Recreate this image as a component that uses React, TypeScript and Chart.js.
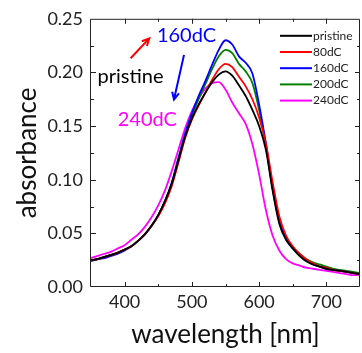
import React, { useEffect, useRef } from 'react';
import { Chart, registerables } from 'chart.js';

Chart.register(...registerables);

// ---------- data ----------
const wavelengths = [350, 360, 370, 380, 390, 400, 410, 420, 430, 440, 450, 460, 470, 480, 490, 500, 510, 520, 530, 540, 550, 560, 570, 580, 590, 600, 610, 620, 630, 640, 650, 660, 670, 680, 690, 700, 710, 720, 730, 740, 750];

const pristine = [0.025, 0.026, 0.028, 0.030, 0.032, 0.035, 0.038, 0.043, 0.049, 0.057, 0.067, 0.080, 0.096, 0.118, 0.140, 0.157, 0.170, 0.181, 0.191, 0.198, 0.201, 0.197, 0.188, 0.178, 0.165, 0.150, 0.128, 0.090, 0.059, 0.044, 0.036, 0.029, 0.024, 0.021, 0.019, 0.017, 0.016, 0.015, 0.014, 0.013, 0.012];
const dC80 = [0.025, 0.026, 0.028, 0.030, 0.032, 0.035, 0.038, 0.043, 0.049, 0.057, 0.066, 0.078, 0.094, 0.116, 0.139, 0.156, 0.169, 0.181, 0.193, 0.203, 0.208, 0.205, 0.196, 0.187, 0.175, 0.158, 0.134, 0.098, 0.066, 0.048, 0.038, 0.031, 0.026, 0.022, 0.019, 0.018, 0.016, 0.015, 0.014, 0.013, 0.012];
const dC160 = [0.024, 0.026, 0.027, 0.029, 0.031, 0.034, 0.038, 0.043, 0.049, 0.057, 0.067, 0.080, 0.097, 0.120, 0.143, 0.162, 0.178, 0.192, 0.207, 0.221, 0.230, 0.226, 0.215, 0.209, 0.199, 0.170, 0.134, 0.092, 0.061, 0.045, 0.036, 0.030, 0.025, 0.021, 0.019, 0.017, 0.016, 0.015, 0.014, 0.013, 0.012];
const dC200 = [0.025, 0.026, 0.028, 0.030, 0.032, 0.035, 0.038, 0.043, 0.049, 0.057, 0.067, 0.080, 0.097, 0.120, 0.142, 0.160, 0.175, 0.189, 0.203, 0.215, 0.221, 0.218, 0.208, 0.201, 0.190, 0.165, 0.132, 0.093, 0.062, 0.046, 0.037, 0.031, 0.026, 0.023, 0.021, 0.019, 0.017, 0.016, 0.015, 0.014, 0.013];
const dC240 = [0.027, 0.029, 0.031, 0.033, 0.036, 0.039, 0.044, 0.049, 0.056, 0.065, 0.076, 0.090, 0.108, 0.128, 0.148, 0.164, 0.176, 0.185, 0.190, 0.191, 0.184, 0.172, 0.162, 0.152, 0.133, 0.105, 0.072, 0.048, 0.034, 0.026, 0.022, 0.020, 0.018, 0.017, 0.016, 0.015, 0.014, 0.013, 0.012, 0.011, 0.011];

const seriesLabels = ['pristine', '80dC', '160dC', '200dC', '240dC'];
const seriesValues = [pristine, dC80, dC160, dC200, dC240];
const seriesColors = ['#000000', '#ff0000', '#0000ff', '#008000', '#ff00ff'];

const xTickLabels = [400, 500, 600, 700];
const yTickLabels = [0, 0.05, 0.1, 0.15, 0.2, 0.25];

// annotations in data coordinates
const annotationTexts = [
  { text: '160dC', x: 492, y: 0.2347, color: '#0000ff' },
  { text: 'pristine', x: 408.7, y: 0.1963, color: '#000000' },
  { text: '240dC', x: 433.7, y: 0.1565, color: '#ff00ff' },
];
const annotationArrows = [
  { x1: 408.9, y1: 0.2132, x2: 436.7, y2: 0.2318, color: '#ff0000' },
  { x1: 488.3, y1: 0.2164, x2: 473.4, y2: 0.1747, color: '#0000ff' },
];

const FONT = 'Lato, Carlito, Calibri, "Open Sans", sans-serif';

const decorPlugin = {
  id: 'decor',
  afterDatasetsDraw(chart: any) {
    const { ctx, chartArea, scales } = chart;
    const { left, right, top, bottom } = chartArea;
    const xs = scales.x;
    const ys = scales.y;
    ctx.save();
    // frame
    ctx.strokeStyle = '#222';
    ctx.lineWidth = 1;
    ctx.beginPath();
    ctx.rect(left - 0.5, top + 0.5, right - left, bottom - top - 1);
    ctx.stroke();
    // x ticks (inward, top and bottom)
    for (let v = 400; v < 750; v += 50) {
      const px = Math.round(xs.getPixelForValue(v)) + 0.5;
      const len = v % 100 === 0 ? 5 : 3;
      ctx.beginPath();
      ctx.moveTo(px, bottom);
      ctx.lineTo(px, bottom - len);
      ctx.moveTo(px, top);
      ctx.lineTo(px, top + len);
      ctx.stroke();
    }
    // y ticks (inward, left and right)
    for (let i = 1; i < 10; i++) {
      const v = i * 0.025;
      const py = Math.round(ys.getPixelForValue(v)) + 0.5;
      const len = i % 2 === 0 ? 5 : 3;
      ctx.beginPath();
      ctx.moveTo(left, py);
      ctx.lineTo(left + len, py);
      ctx.moveTo(right, py);
      ctx.lineTo(right - len, py);
      ctx.stroke();
    }
    // annotations
    ctx.font = `20px ${FONT}`;
    ctx.textAlign = 'center';
    ctx.textBaseline = 'middle';
    for (const a of annotationTexts) {
      ctx.fillStyle = a.color;
      ctx.fillText(a.text, xs.getPixelForValue(a.x), ys.getPixelForValue(a.y));
    }
    for (const a of annotationArrows) {
      const x1 = xs.getPixelForValue(a.x1);
      const y1 = ys.getPixelForValue(a.y1);
      const x2 = xs.getPixelForValue(a.x2);
      const y2 = ys.getPixelForValue(a.y2);
      const ang = Math.atan2(y2 - y1, x2 - x1);
      const h = 8;
      ctx.strokeStyle = a.color;
      ctx.lineWidth = 2;
      ctx.beginPath();
      ctx.moveTo(x1, y1);
      ctx.lineTo(x2, y2);
      ctx.moveTo(x2 - h * Math.cos(ang - 0.45), y2 - h * Math.sin(ang - 0.45));
      ctx.lineTo(x2, y2);
      ctx.lineTo(x2 - h * Math.cos(ang + 0.45), y2 - h * Math.sin(ang + 0.45));
      ctx.stroke();
    }
    // legend
    ctx.font = `12px ${FONT}`;
    ctx.textAlign = 'left';
    ctx.textBaseline = 'middle';
    chart.data.datasets.forEach((ds: any, i: number) => {
      const yy = top + 17 + i * 16.2;
      const lx = right - 80;
      ctx.strokeStyle = ds.borderColor;
      ctx.lineWidth = 2;
      ctx.beginPath();
      ctx.moveTo(lx, yy);
      ctx.lineTo(lx + 32, yy);
      ctx.stroke();
      ctx.fillStyle = '#222';
      ctx.fillText(ds.label, lx + 33, yy);
    });
    ctx.restore();
  },
};

export default function App() {
  const ref = useRef<HTMLCanvasElement | null>(null);
  useEffect(() => {
    if (!ref.current) return;
    const chart = new Chart(ref.current, {
      type: 'line',
      data: {
        datasets: seriesLabels.map((label, i) => ({
          label,
          data: wavelengths.map((w, j) => ({ x: w, y: seriesValues[i][j] })),
          borderColor: seriesColors[i],
          backgroundColor: seriesColors[i],
          borderWidth: 1.8,
          pointRadius: 0,
          cubicInterpolationMode: 'monotone' as const,
          fill: false,
        })),
      },
      options: {
        responsive: false,
        animation: false,
        layout: { padding: { left: 0, right: 2, top: 17, bottom: 0 } },
        plugins: { legend: { display: false }, tooltip: { enabled: false } },
        scales: {
          x: {
            type: 'linear',
            min: 350,
            max: 750,
            afterBuildTicks: (s: any) => {
              s.ticks = xTickLabels.map((v) => ({ value: v }));
            },
            ticks: {
              autoSkip: false,
              maxRotation: 0,
              padding: 4,
              color: '#222',
              font: { family: FONT, size: 18 },
              callback: (v: any) => String(v),
            },
            grid: { display: false, drawTicks: false },
            border: { display: false },
            title: {
              display: true,
              text: 'wavelength [nm]',
              color: '#111',
              font: { family: FONT, size: 26 },
              padding: { top: 0, bottom: 3 },
            },
            afterFit: (s: any) => {
              s.height = 66;
            },
          },
          y: {
            type: 'linear',
            min: 0,
            max: 0.25,
            afterBuildTicks: (s: any) => {
              s.ticks = yTickLabels.map((v) => ({ value: v }));
            },
            ticks: {
              padding: 8,
              color: '#222',
              font: { family: FONT, size: 18 },
              callback: (v: any) => Number(v).toFixed(2),
            },
            grid: { display: false, drawTicks: false },
            border: { display: false },
            title: {
              display: true,
              text: 'absorbance',
              color: '#111',
              font: { family: FONT, size: 26 },
              padding: { top: 12, bottom: 0 },
            },
            afterFit: (s: any) => {
              s.width = 91;
            },
          },
        },
      },
      plugins: [decorPlugin],
    });
    return () => chart.destroy();
  }, []);
  return (
    <div style={{ position: 'fixed', left: 0, top: 0, width: 362, height: 353, background: '#fff' }}>
      <canvas ref={ref} width={362} height={353} />
    </div>
  );
}
